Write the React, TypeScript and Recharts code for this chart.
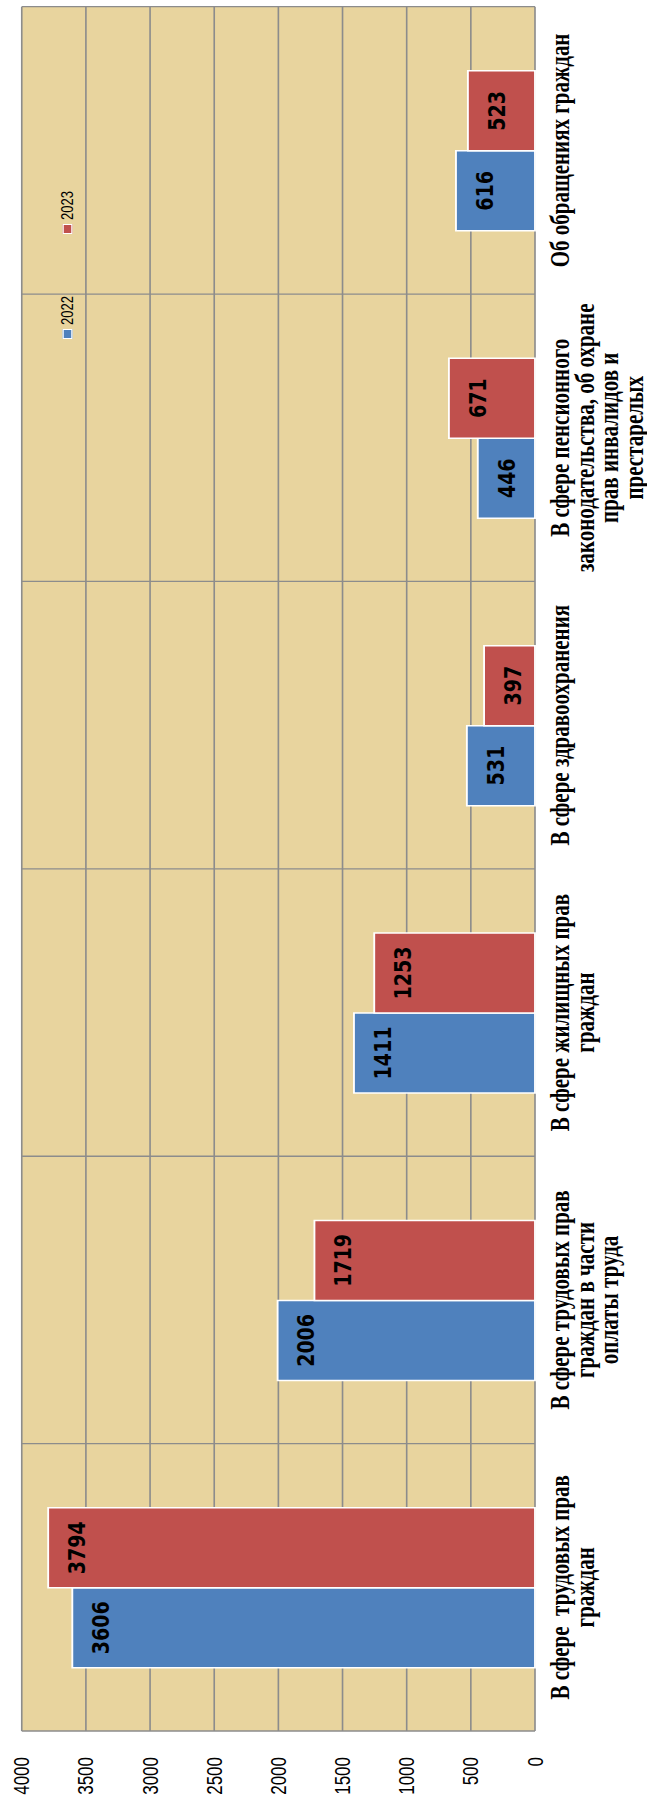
import React from 'react';
import { BarChart, Bar, XAxis, YAxis, CartesianGrid, Legend, LabelList } from 'recharts';

const categoryLabels: string[][] = [
  ['В сфере  трудовых прав', 'граждан'],
  ['В сфере трудовых прав', 'граждан в части', 'оплаты труда'],
  ['В сфере жилищных прав', 'граждан'],
  ['В сфере здравоохранения'],
  ['В сфере пенсионного', 'законодательства, об охране', 'прав инвалидов и', 'престарелых'],
  ['Об обращениях граждан'],
];
const values2022 = [3606, 2006, 1411, 531, 446, 616];
const values2023 = [3794, 1719, 1253, 397, 671, 523];
const seriesNames = ['2022', '2023'];
const valueTicks = [0, 500, 1000, 1500, 2000, 2500, 3000, 3500, 4000];

const data = categoryLabels.map((lines, i) => ({
  name: lines.join(' '),
  v2022: values2022[i],
  v2023: values2023[i],
}));

const W = 1819;
const H = 518;
const S = 1.25;

const CategoryTick = (props: any) => {
  const { x, y, index } = props;
  const lines = categoryLabels[index] || [];
  return (
    <text
      x={x}
      y={y}
      textAnchor="middle"
      fontFamily="'Liberation Serif', 'Times New Roman', serif"
      fontWeight="bold"
      fontSize={21}
      fill="#000"
      style={{ whiteSpace: 'pre' }}
    >
      {lines.map((l, i) => (
        <tspan key={i} x={x} y={y + 27.3 + i * 19.6}>
          {l}
        </tspan>
      ))}
    </text>
  );
};

const LegendContent = (p: any) => {
  const payload = p.payload || [];
  return (
    <div style={{ display: 'flex', alignItems: 'center', height: 16 }}>
      {payload.map((e: any, i: number) => (
        <div key={i} style={{ display: 'flex', alignItems: 'center', width: 105 }}>
          <div
            style={{
              width: 8,
              height: 6,
              background: e.color,
              border: '1px solid #fff',
              marginRight: 4,
            }}
          />
          <span
            style={{
              fontFamily: "'Liberation Sans', Arial, sans-serif",
              fontSize: 13,
              color: '#000',
              lineHeight: '16px',
            }}
          >
            {e.value}
          </span>
        </div>
      ))}
    </div>
  );
};

export default function App() {
  return (
    <div
      style={{
        position: 'absolute',
        left: 0,
        top: 0,
        width: W,
        height: H,
        transformOrigin: '0 0',
        transform: `translate(0px, ${W}px) rotate(-90deg) scale(1, ${S})`,
      }}
    >
      <BarChart
        width={W}
        height={H}
        data={data}
        margin={{ top: 17.4, right: 6.7, bottom: 0, left: 0 }}
        barCategoryGap="22%"
        barGap={0}
      >
        <CartesianGrid
          stroke="#8C8C8C"
          strokeWidth={1.3}
          fill="#E8D49E"
          fillOpacity={1}
          verticalCoordinatesGenerator={({ offset }: any) =>
            categoryLabels.map((_, k) => offset.left + (k * offset.width) / categoryLabels.length).concat([
              offset.left + offset.width,
            ])
          }
        />
        <XAxis
          dataKey="name"
          type="category"
          height={90}
          axisLine={false}
          tickLine={false}
          tickSize={0}
          tickMargin={0}
          interval={0}
          tick={<CategoryTick />}
        />
        <YAxis
          type="number"
          domain={[0, 4000]}
          ticks={valueTicks}
          width={88}
          axisLine={false}
          tickLine={false}
          tickSize={0}
          tickMargin={26}
          interval={0}
          tick={{ fill: '#000', fontSize: 17, fontFamily: "'Liberation Sans', Arial, sans-serif" }}
        />
        <Legend
          layout="vertical"
          align="center"
          verticalAlign="middle"
          wrapperStyle={{ left: 1480, top: 46, width: 240, height: 16 }}
          content={<LegendContent />}
        />
        <Bar
          dataKey="v2022"
          name={seriesNames[0]}
          fill="#4F81BD"
          stroke="#FFFFFF"
          strokeWidth={1.5}
          isAnimationActive={false}
        >
          <LabelList
            dataKey="v2022"
            position="insideTop"
            offset={16}
            fill="#000"
            fontSize={19}
            fontWeight="bold"
            fontFamily="'DejaVu Sans', sans-serif"
          />
        </Bar>
        <Bar
          dataKey="v2023"
          name={seriesNames[1]}
          fill="#C0504D"
          stroke="#FFFFFF"
          strokeWidth={1.5}
          isAnimationActive={false}
        >
          <LabelList
            dataKey="v2023"
            position="insideTop"
            offset={16}
            fill="#000"
            fontSize={19}
            fontWeight="bold"
            fontFamily="'DejaVu Sans', sans-serif"
          />
        </Bar>
      </BarChart>
    </div>
  );
}
